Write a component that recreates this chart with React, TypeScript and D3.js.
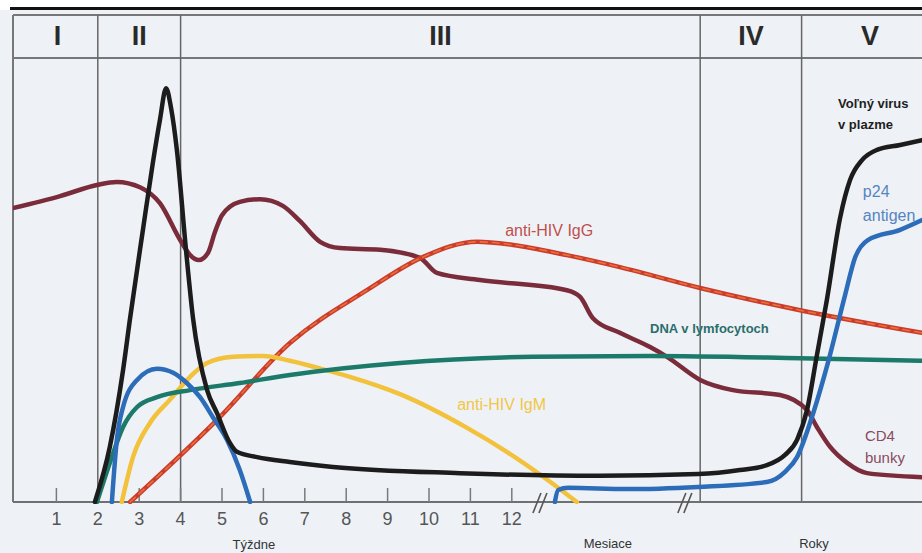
import React from "react";
import * as d3 from "d3";

// composite time index: weeks 0-12, then a break to months, then years
const weekTicks = [1, 2, 3, 4, 5, 6, 7, 8, 9, 10, 11, 12];
const phases = ["I", "II", "III", "IV", "V"];
const phaseEdges = [-0.05, 2, 4, 16.55, 19, 22.3];
const axisBreaks = [12.68, 16.18];
const unitLabels = ["Týždne", "Mesiace", "Roky"];
const unitPos = [5.77, 14.32, 19.3];

// relative level 0-100
const freeVirus: [number, number][] = [
  [1.93, 0], [2.29, 12.4], [2.61, 29.7], [2.78, 41.4], [3.09, 61.3], [3.33, 76.4],
  [3.5, 86.0], [3.65, 93.2], [3.77, 88.7], [3.91, 79.3], [4.13, 56.8], [4.3, 41.4],
  [4.64, 25.2], [4.88, 20.0], [5.19, 13.3], [5.36, 11.3], [5.85, 10.1], [6.64, 9.0],
  [7.68, 7.9], [10.75, 6.5], [14.13, 5.9], [16.5, 6.3], [17.51, 7.2], [18.16, 8.3],
  [18.6, 10.6], [18.89, 14.0], [19.13, 20.7], [19.37, 33.1], [19.61, 45.5], [19.93, 64.0],
  [20.17, 72.5], [20.46, 77.0], [20.82, 79.3], [21.38, 80.4], [21.91, 81.5],
];

const p24Early: [number, number][] = [
  [2.34, 0], [2.46, 14.0], [2.61, 21.4], [2.95, 27.5], [3.43, 30.0], [3.82, 29.1],
  [4.15, 26.8], [4.47, 23.6], [4.78, 19.1], [5.12, 14.0], [5.43, 7.2], [5.68, 0],
];

const p24Late: [number, number][] = [
  [13.04, 0], [13.12, 2.7], [13.36, 3.2], [14.78, 2.9], [16.5, 3.4], [18.16, 4.5],
  [18.6, 6.8], [18.89, 10.1], [19.28, 20.0], [19.64, 31.5], [20.05, 46.6], [20.29, 55.0],
  [20.6, 59.0], [21.38, 61.3], [21.91, 63.5],
];

const dnaLymph: [number, number][] = [
  [1.98, 0], [2.29, 8.8], [2.61, 16.9], [2.95, 21.4], [3.43, 23.6], [4.23, 25.2],
  [5.43, 26.8], [6.64, 28.6], [9.3, 31.3], [12.51, 32.7], [15.34, 32.9], [18.96, 32.4],
  [21.91, 31.8],
];

const igM: [number, number][] = [
  [2.58, 0], [2.85, 10.1], [3.26, 17.8], [3.74, 23.0], [4.23, 28.2], [4.64, 31.3],
  [5.27, 32.7], [5.99, 32.9], [6.64, 31.8], [7.4, 30.0], [8.09, 28.2], [9.3, 24.3],
  [10.92, 16.7], [11.88, 11.3], [12.8, 5.4], [13.57, 0],
];

const igG: [number, number][] = [
  [2.78, 0], [4.88, 18.5], [6.64, 35.8], [8.5, 47.7], [9.86, 55.2], [11.16, 58.6],
  [12.03, 57.9], [13.33, 55.6], [14.61, 52.9], [16.55, 48.2], [18.96, 43.2], [21.91, 38.1],
];

const cd4: [number, number][] = [
  [-0.05, 66.2], [1.09, 68.9], [1.98, 71.4], [2.46, 72.1], [3.02, 70.9], [3.5, 67.3],
  [3.99, 59.0], [4.23, 55.6], [4.44, 54.5], [4.66, 56.1], [4.83, 60.8], [5.0, 64.6],
  [5.43, 67.6], [5.92, 68.2], [6.47, 66.7], [6.88, 63.3], [7.37, 58.6], [7.85, 57.2],
  [8.82, 56.8], [9.78, 55.0], [10.19, 51.6], [11.23, 50.0], [13.33, 47.7], [13.65, 46.2],
  [13.96, 41.4], [14.61, 38.1], [15.34, 34.9], [15.75, 32.7], [16.55, 27.5], [17.34, 25.2],
  [18.48, 24.1], [19.13, 20.7], [19.37, 16.9], [19.69, 12.4], [20.1, 8.8], [20.58, 6.5],
  [21.91, 5.6],
];

const series = [
  { name: "cd4", data: cd4, color: "#7a2c3a" },
  { name: "igG", data: igG, color: "#cc3c2c", dash: "#ee7d3c" },
  { name: "igM", data: igM, color: "#f2c23c" },
  { name: "dna", data: dnaLymph, color: "#1b7a6a" },
  { name: "p24a", data: p24Early, color: "#2c6cb8" },
  { name: "p24b", data: p24Late, color: "#2c6cb8" },
  { name: "virus", data: freeVirus, color: "#1c1c1c" },
];

const labels = [
  { lines: ["Voľný virus", "v plazme"], t: 19.88, v: [88.7, 84.0], color: "#1e1e1e", size: 13, weight: 700 },
  { lines: ["p24", "antigen"], t: 20.48, v: [68.7, 63.3], color: "#5584bf", size: 16, weight: 400 },
  { lines: ["anti-HIV IgG"], t: 11.84, v: [59.9], color: "#c04f4c", size: 16, weight: 400 },
  { lines: ["anti-HIV IgM"], t: 10.68, v: [20.7], color: "#f1c646", size: 16, weight: 400 },
  { lines: ["DNA v lymfocytoch"], t: 15.34, v: [38.1], color: "#2b6d69", size: 13, weight: 700 },
  { lines: ["CD4", "bunky"], t: 20.53, v: [13.7, 8.8], color: "#8a4a5e", size: 15, weight: 400 },
];

const W = 922, H = 553;
const top = 15, headBottom = 58, axisY = 502, left = 13;
const font = "'Liberation Sans', Arial, sans-serif";

export default function App() {
  const x = d3.scaleLinear().domain([0, 22]).range([15, 925.8]);
  const y = d3.scaleLinear().domain([0, 100]).range([axisY, headBottom]);
  const line = d3.line<[number, number]>()
    .x(d => x(d[0]))
    .y(d => y(d[1]))
    .curve(d3.curveMonotoneX);

  return (
    <svg width={W} height={H} style={{ position: "absolute", left: 0, top: 0, fontFamily: font }}>
      <defs>
        <clipPath id="plot">
          <rect x={left} y={headBottom} width={W - left} height={axisY - headBottom + 2} />
        </clipPath>
      </defs>
      <rect x={0} y={0} width={W} height={H} fill="#ffffff" />
      <rect x={0} y={10} width={W} height={H - 10} fill="#eef2f7" />
      <line x1={10} x2={W} y1={8.5} y2={8.5} stroke="#111" strokeWidth={3} />

      {/* frame */}
      <line x1={left} x2={W} y1={top} y2={top} stroke="#777" strokeWidth={2} />
      <line x1={left} x2={W} y1={headBottom} y2={headBottom} stroke="#777" strokeWidth={2} />
      <line x1={left} x2={left} y1={top} y2={axisY} stroke="#777" strokeWidth={2} />
      {phaseEdges.slice(1, -1).map((e, i) => (
        <line key={i} x1={x(e)} x2={x(e)} y1={top} y2={axisY} stroke="#666" strokeWidth={1.5} />
      ))}
      {phases.map((p, i) => (
        <text key={p} x={(x(Math.max(phaseEdges[i], 0)) + x(phaseEdges[i + 1])) / 2 + (i === 0 ? 1 : 0)} y={45}
          textAnchor="middle" fontSize={27} fontWeight={900} fill="#2a2a2a">{p}</text>
      ))}

      {/* x axis */}
      <line x1={left} x2={W} y1={axisY} y2={axisY} stroke="#707070" strokeWidth={2} />
      {weekTicks.map(t => (
        <g key={t}>
          <line x1={x(t)} x2={x(t)} y1={axisY - 14} y2={axisY} stroke="#7a7a7a" strokeWidth={1.5} />
          <text x={x(t)} y={525} textAnchor="middle" fontSize={18} fill="#555">{t}</text>
        </g>
      ))}
      {axisBreaks.map((b, i) => (
        <g key={i} stroke="#555" strokeWidth={1.6}>
          <line x1={x(b) - 7} x2={x(b) + 1} y1={axisY + 11} y2={axisY - 9} />
          <line x1={x(b) - 1} x2={x(b) + 7} y1={axisY + 11} y2={axisY - 9} />
        </g>
      ))}
      {unitLabels.map((u, i) => (
        <text key={u} x={x(unitPos[i])} y={i === 0 ? 549 : 548} textAnchor="middle" fontSize={13} fill="#333">{u}</text>
      ))}

      {/* curves */}
      <g clipPath="url(#plot)" fill="none" strokeLinecap="round" strokeLinejoin="round">
        {series.map(s => (
          <g key={s.name}>
            <path d={line(s.data) || ""} stroke={s.color} strokeWidth={4.5} />
            {s.dash && <path d={line(s.data) || ""} stroke={s.dash} strokeWidth={1.6} strokeDasharray="7 5" opacity={0.8} />}
          </g>
        ))}
      </g>

      {labels.map((l, i) => (
        <text key={i} fontSize={l.size} fontWeight={l.weight} fill={l.color}>
          {l.lines.map((ln, j) => (
            <tspan key={j} x={x(l.t)} y={y(l.v[j])}>{ln}</tspan>
          ))}
        </text>
      ))}
    </svg>
  );
}
